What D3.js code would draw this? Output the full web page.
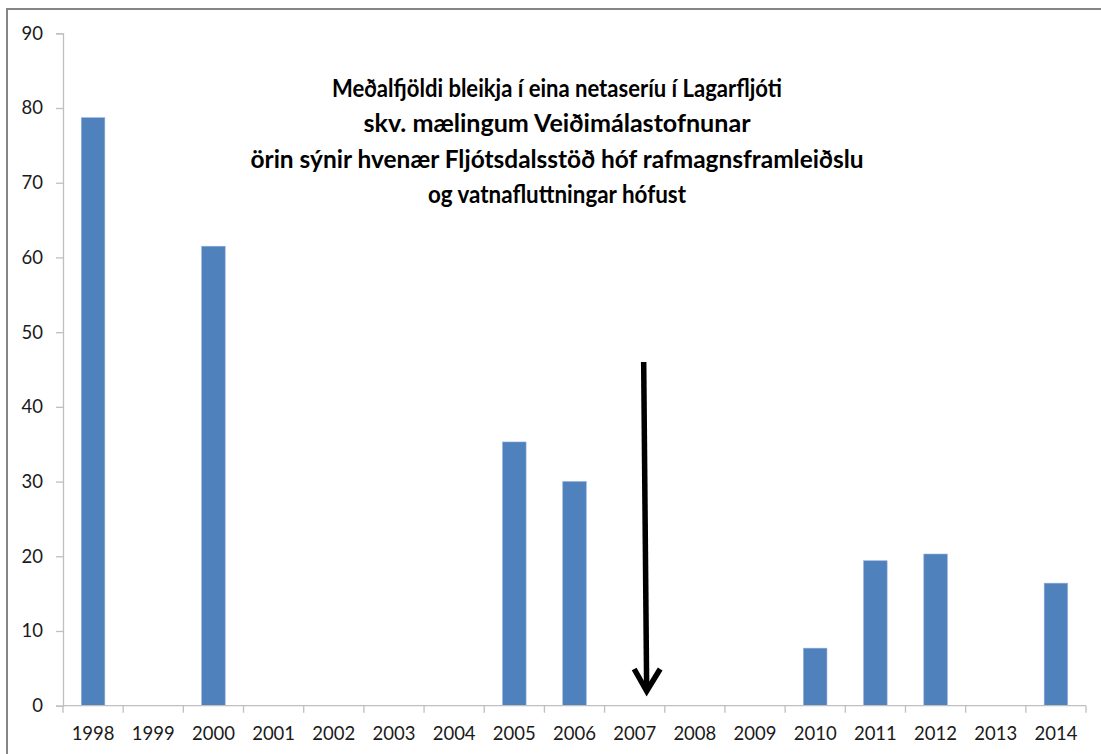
<!DOCTYPE html>
<html>
<head>
<meta charset="utf-8">
<script src="https://cdn.jsdelivr.net/npm/d3@7/dist/d3.min.js"></script>
<style>
  html, body { margin: 0; padding: 0; background: #fff; }
  svg { display: block; }
</style>
</head>
<body>
<svg id="chart" width="1101" height="754"></svg>
<script>
// ---- data ----
const years = ["1998","1999","2000","2001","2002","2003","2004","2005","2006","2007","2008","2009","2010","2011","2012","2013","2014"];
const values = [78.7, null, 61.5, null, null, null, null, 35.3, 30.0, null, null, null, 7.7, 19.4, 20.3, null, 16.4];
const yTicks = [0, 10, 20, 30, 40, 50, 60, 70, 80, 90];
const titleLines = [
  "Meðalfjöldi bleikja í eina netaseríu í Lagarfljóti",
  "skv. mælingum Veiðimálastofnunar",
  "örin sýnir hvenær Fljótsdalsstöð hóf rafmagnsframleiðslu",
  "og vatnafluttningar hófust"
];
const arrowYear = "2007";
const arrowFrom = 46;   // value at arrow start
const arrowTo = 1.7;    // value at arrow tip

(function () {
// ---- layout ----
const svg = d3.select("#chart");
const mLeft = 63, mRight = 1086, mTop = 33.3, mBottom = 705.7;
const fontFam = "Lato, 'Open Sans', 'Liberation Sans', sans-serif";

// outer border
svg.append("rect")
  .attr("x", 7).attr("y", 9).attr("width", 1120).attr("height", 780)
  .attr("fill", "none").attr("stroke", "#868686").attr("stroke-width", 2);

const x = d3.scaleBand().domain(years).range([mLeft, mRight])
  .paddingInner(0.61).paddingOuter(0.305);
const y = d3.scaleLinear().domain([0, 90]).range([mBottom, mTop]);

// bars
svg.append("g").selectAll("rect")
  .data(years.map((yr, i) => ({yr, v: values[i]})).filter(d => d.v != null))
  .join("rect")
  .attr("x", d => x(d.yr))
  .attr("y", d => y(d.v))
  .attr("width", x.bandwidth())
  .attr("height", d => y(0) - y(d.v))
  .attr("fill", "#4F81BD")
  .attr("stroke", "#8EAADB").attr("stroke-width", 0.6);

// y axis
const yAxis = d3.axisLeft(y).tickValues(yTicks).tickSize(7).tickPadding(13);
const gy = svg.append("g").attr("transform", `translate(${mLeft},0)`).call(yAxis);
gy.select(".domain").attr("stroke", "#BFBFBF").attr("stroke-width", 1.3);
gy.selectAll(".tick line").attr("stroke", "#BFBFBF").attr("stroke-width", 1.3);
gy.selectAll(".tick text").attr("fill", "#1a1a1a")
  .style("font-family", fontFam).style("font-size", "18.5px");

// x axis: ticks at category boundaries
const step = x.step();
const gx = svg.append("g").attr("transform", `translate(0,${mBottom})`);
gx.append("line").attr("x1", mLeft).attr("x2", mRight).attr("y1", 0).attr("y2", 0)
  .attr("stroke", "#BFBFBF").attr("stroke-width", 1.3);
const bounds = d3.range(years.length + 1).map(i => mLeft + i * step);
gx.selectAll("line.tk").data(bounds).join("line").attr("class", "tk")
  .attr("x1", d => d).attr("x2", d => d).attr("y1", 0).attr("y2", 7)
  .attr("stroke", "#BFBFBF").attr("stroke-width", 1.3);
gx.selectAll("text").data(years).join("text")
  .attr("x", d => x(d) + x.bandwidth() / 2)
  .attr("y", 34.5)
  .attr("text-anchor", "middle")
  .attr("fill", "#1a1a1a")
  .style("font-family", fontFam).style("font-size", "18.5px")
  .text(d => d);

// title
const titleWidths = [450, 387, 613, 258];
const titleBase = [96.5, 132, 167.5, 203];
svg.append("g").selectAll("text").data(titleLines).join("text")
  .attr("x", 557)
  .attr("y", (d, i) => titleBase[i])
  .attr("text-anchor", "middle")
  .attr("textLength", (d, i) => titleWidths[i])
  .attr("lengthAdjust", "spacingAndGlyphs")
  .attr("fill", "#000")
  .style("font-family", fontFam).style("font-weight", "bold").style("font-size", "24.5px")
  .text(d => d);

// arrow annotation
const ax = x(arrowYear) + x.bandwidth() / 2;
const ax1 = ax + 9, ax2 = ax + 12;
const y1 = y(arrowFrom), y2 = y(arrowTo);
svg.append("line")
  .attr("x1", ax1).attr("y1", y1).attr("x2", ax2).attr("y2", y2 - 3)
  .attr("stroke", "#000").attr("stroke-width", 5.5);
svg.append("path")
  .attr("d", `M${ax2 - 12.5},${y2 - 24} L${ax2},${y2 - 2} L${ax2 + 13.5},${y2 - 24}`)
  .attr("fill", "none").attr("stroke", "#000").attr("stroke-width", 5.5)
  .attr("stroke-linejoin", "miter");
})();
</script>
</body>
</html>
